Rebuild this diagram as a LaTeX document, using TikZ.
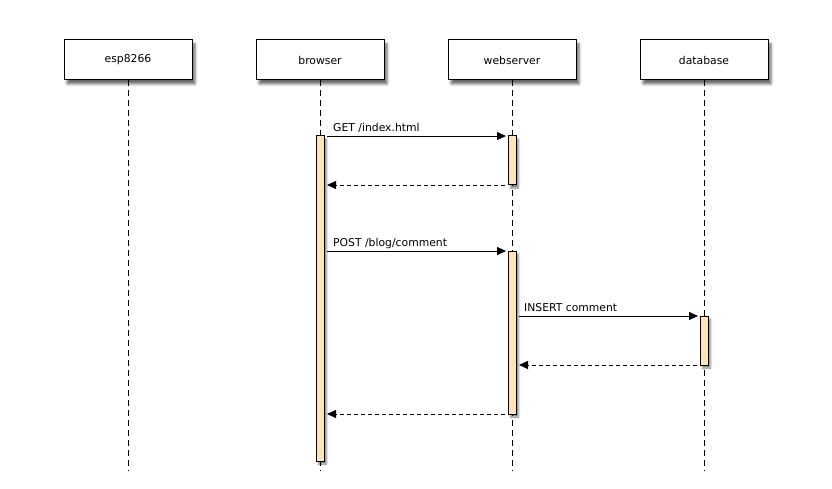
\documentclass[tikz,border=0pt]{standalone}
\usepackage{fontspec}
\setmainfont{DejaVu Sans}
\usetikzlibrary{arrows.meta,shadows.blur}
\definecolor{actfill}{HTML}{FFE4B5}
\tikzset{
  actor/.style={draw=black, fill=white, line width=1pt, minimum width=128pt, minimum height=40pt,
    inner sep=0pt, font=\fontsize{10.8}{12}\selectfont,
    blur shadow={shadow xshift=3pt, shadow yshift=-4pt, shadow blur radius=2.5pt, shadow opacity=60}},
  lifeline/.style={line width=1pt, dash pattern=on 6pt off 4pt},
  activation/.style={draw=black, fill=actfill, line width=1pt, minimum width=8pt, inner sep=0pt,
    blur shadow={shadow xshift=2.5pt, shadow yshift=-3pt, shadow blur radius=2pt, shadow opacity=50}},
  msg/.style={line width=0.9pt, -{Triangle[length=9pt,width=8pt]}},
  reply/.style={msg, dash pattern=on 4pt off 3pt},
  msglabel/.style={anchor=base west, inner sep=0pt, font=\fontsize{10.8}{12}\selectfont},
}
\begin{document}
\begin{tikzpicture}[x=1pt,y=-1pt]
  \useasboundingbox (0,0) rectangle (832,489);

  % lifelines
  \coordinate (espEnd) at (128,471);
  \coordinate (brEnd) at (320,471);
  \coordinate (wsEnd) at (512,471);
  \coordinate (dbEnd) at (704,471);
  \draw[lifeline] (128,80) -- (espEnd);
  \draw[lifeline] (320,80) -- (brEnd);
  \draw[lifeline] (512,80) -- (wsEnd);
  \draw[lifeline] (704,80) -- (dbEnd);

  % participant boxes
  \node[actor] (esp) at (128,60) {esp8266};
  \node[actor] (br) at (320,60) {browser};
  \node[actor] (ws) at (512,60) {webserver};
  \node[actor] (db) at (704,60) {database};

  % activation bars
  \node[activation, minimum height=325pt] (brAct) at (320,298.5) {};
  \node[activation, minimum height=49pt] (wsAct1) at (512,160.5) {};
  \node[activation, minimum height=163pt] (wsAct2) at (512,332.5) {};
  \node[activation, minimum height=49pt] (dbAct) at (704,340.5) {};

  % message anchors
  \coordinate (m1s) at (327,136);
  \coordinate (m1e) at (506,136);
  \coordinate (r1s) at (505,185);
  \coordinate (r1e) at (327,185);
  \coordinate (m2s) at (327,251);
  \coordinate (m2e) at (506,251);
  \coordinate (m3s) at (519,316);
  \coordinate (m3e) at (698,316);
  \coordinate (r3s) at (697,365);
  \coordinate (r3e) at (519,365);
  \coordinate (r2s) at (505,414);
  \coordinate (r2e) at (327,414);

  % messages
  \draw[msg] (m1s) -- (m1e);
  \node[msglabel] (l1) at (333,131.5) {GET /index.html};
  \draw[reply] (r1s) -- (r1e);

  \draw[msg] (m2s) -- (m2e);
  \node[msglabel] (l2) at (333,246.5) {POST /blog/comment};

  \draw[msg] (m3s) -- (m3e);
  \node[msglabel] (l3) at (524,311.5) {INSERT comment};
  \draw[reply] (r3s) -- (r3e);

  \draw[reply] (r2s) -- (r2e);
\end{tikzpicture}
\end{document}
